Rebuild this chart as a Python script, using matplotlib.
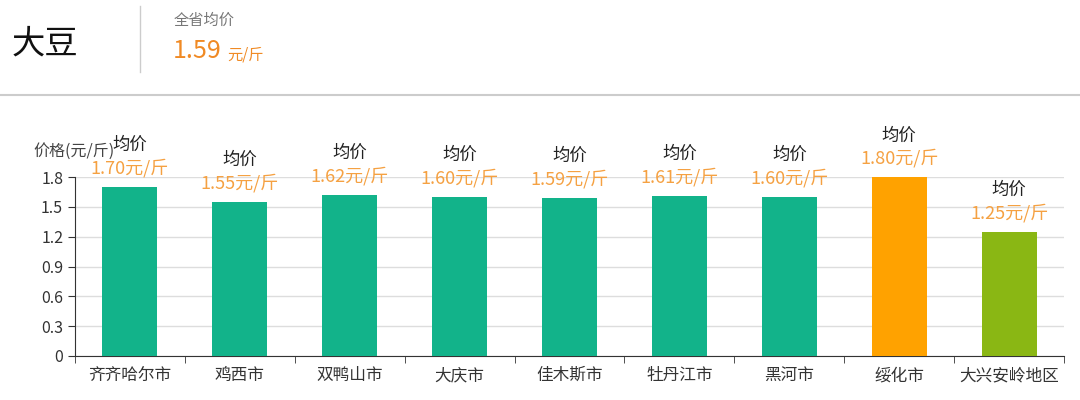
import matplotlib.pyplot as plt
from matplotlib.lines import Line2D

plt.rcParams['font.family'] = ['Noto Sans CJK SC', 'DejaVu Sans']

# 各地区大豆均价
cities = ["齐齐哈尔市", "鸡西市", "双鸭山市", "大庆市", "佳木斯市", "牡丹江市", "黑河市", "绥化市", "大兴安岭地区"]
prices = [1.70, 1.55, 1.62, 1.60, 1.59, 1.61, 1.60, 1.80, 1.25]
bar_colors = ["#12b38a"] * 7 + ["#ffa200", "#8ab714"]
yticks = [0, 0.3, 0.6, 0.9, 1.2, 1.5, 1.8]
province_avg = "1.59"

fig = plt.figure(figsize=(10.8, 4), dpi=100)

# header
fig.text(12 / 1080, 1 - 44 / 400, "大豆", fontsize=24, color="#111111", va="center")
fig.add_artist(Line2D([140 / 1080, 140 / 1080], [1 - 6 / 400, 1 - 72 / 400], color="#cccccc", lw=1))
fig.text(174 / 1080, 1 - 20 / 400, "全省均价", fontsize=11, color="#777777", va="center")
fig.text(173 / 1080, 1 - 51 / 400, province_avg, fontsize=18, color="#f08a24", va="center")
fig.text(227 / 1080, 1 - 55 / 400, "元/斤", fontsize=11, color="#f08a24", va="center")
fig.add_artist(Line2D([0, 1], [1 - 95 / 400, 1 - 95 / 400], color="#cccccc", lw=1.5))

ax = fig.add_axes([75 / 1080, 1 - 356 / 400, (1064 - 75) / 1080, (356 - 177) / 400])
x = list(range(len(cities)))
ax.bar(x, prices, width=0.5, color=bar_colors, zorder=3)
ax.set_xlim(-0.5, len(cities) - 0.5)
ax.set_ylim(0, 1.8)
ax.set_yticks(yticks)
ax.set_yticklabels([("%g" % v) for v in yticks], fontsize=11.5, color="#333333")
ax.set_xticks(x)
ax.set_xticklabels(cities, fontsize=12, color="#333333")
ax.tick_params(axis="x", length=0, pad=8)
ax.set_xticks([i - 0.5 for i in range(len(cities) + 1)], minor=True)
ax.tick_params(axis="x", which="minor", length=5, direction="out", color="#333333")
ax.tick_params(axis="y", length=5, color="#333333")
ax.grid(axis="y", color="#dddddd", lw=1, zorder=0)
for s in ["top", "right"]:
    ax.spines[s].set_visible(False)
ax.spines["left"].set_color("#333333")
ax.spines["bottom"].set_color("#333333")

for i, p in enumerate(prices):
    ax.annotate("%.2f元/斤" % p, (i, p), xytext=(0, 13.5), textcoords="offset points",
                ha="center", va="center", fontsize=13, color="#f5a142", annotation_clip=False)
    ax.annotate("均价", (i, p), xytext=(0, 30), textcoords="offset points",
                ha="center", va="center", fontsize=12.5, color="#222222", annotation_clip=False)

fig.text(33 / 1080, 1 - 151 / 400, "价格(元/斤)", fontsize=11.5, color="#444444", va="center")

fig.savefig("out.png", dpi=100, facecolor="white")
